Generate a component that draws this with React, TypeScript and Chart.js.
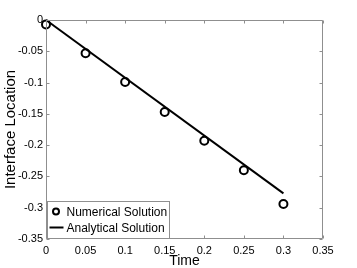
import React, { useEffect, useRef } from "react";
import { Chart, registerables } from "chart.js";

Chart.register(...registerables);

const timeValues = [0, 0.05, 0.1, 0.15, 0.2, 0.25, 0.3];
const numericalSolution = [-0.007, -0.053, -0.099, -0.147, -0.193, -0.24, -0.294];
const analyticalTime = [0, 0.3];
const analyticalSolution = [0, -0.277];
const legendLabels = ["Numerical Solution", "Analytical Solution"];
const xTitle = "Time";
const yTitle = "Interface Location";

const FONT = "'Liberation Sans', Arial, Helvetica, sans-serif";
const AXIS_COLOR = "#8f8f8f";

const fmt = (v: number) => {
  const n = Number(Number(v).toFixed(2));
  return n === 0 ? "0" : String(n);
};

const boxPlugin = {
  id: "matlabBox",
  afterDatasetsDraw(chart: any) {
    const { ctx, chartArea } = chart;
    const { left, right, top, bottom } = chartArea;
    const xs = chart.scales.x;
    const ys = chart.scales.y;
    ctx.save();
    ctx.strokeStyle = AXIS_COLOR;
    ctx.lineWidth = 1;
    const L = Math.round(left) + 0.5;
    const R = Math.round(right) - 0.5;
    const T = Math.round(top) + 0.5;
    const B = Math.round(bottom) - 0.5;
    ctx.beginPath();
    ctx.rect(L, T, R - L, B - T);
    const tl = 3;
    xs.ticks.forEach((t: any) => {
      const px = Math.round(xs.getPixelForValue(t.value)) + 0.5;
      ctx.moveTo(px, B);
      ctx.lineTo(px, B - tl);
      ctx.moveTo(px, T);
      ctx.lineTo(px, T + tl);
    });
    ys.ticks.forEach((t: any) => {
      const py = Math.round(ys.getPixelForValue(t.value)) + 0.5;
      ctx.moveTo(L, py);
      ctx.lineTo(L + tl, py);
      ctx.moveTo(R, py);
      ctx.lineTo(R - tl, py);
    });
    ctx.stroke();
    ctx.restore();
  },
  afterDraw(chart: any) {
    const { ctx, chartArea } = chart;
    const x0 = Math.round(chartArea.left) + 1.5;
    const y1 = Math.round(chartArea.bottom) - 0.5;
    const w = 122;
    const h = 37;
    const y0 = y1 - h;
    ctx.save();
    ctx.fillStyle = "#ffffff";
    ctx.fillRect(x0, y0, w, h);
    ctx.strokeStyle = AXIS_COLOR;
    ctx.lineWidth = 1;
    ctx.strokeRect(x0, y0, w, h);
    const r1 = y0 + 10;
    const r2 = y0 + 26;
    ctx.strokeStyle = "#000000";
    ctx.lineWidth = 2;
    ctx.beginPath();
    ctx.arc(x0 + 8.5, r1, 3, 0, Math.PI * 2);
    ctx.stroke();
    ctx.beginPath();
    ctx.moveTo(x0 + 2, r2);
    ctx.lineTo(x0 + 16, r2);
    ctx.stroke();
    ctx.fillStyle = "#000000";
    ctx.font = `12px ${FONT}`;
    ctx.textBaseline = "middle";
    ctx.textAlign = "left";
    ctx.fillText(legendLabels[0], x0 + 19, r1 + 1);
    ctx.fillText(legendLabels[1], x0 + 19, r2 + 1);
    ctx.restore();
  },
};

export default function App() {
  const ref = useRef<HTMLCanvasElement | null>(null);
  useEffect(() => {
    if (!ref.current) return;
    Chart.defaults.font.family = FONT;
    const chart = new Chart(ref.current, {
      type: "scatter",
      data: {
        datasets: [
          {
            label: legendLabels[0],
            data: timeValues.map((t, i) => ({ x: t, y: numericalSolution[i] })),
            showLine: false,
            pointStyle: "circle",
            pointRadius: 4,
            pointBorderWidth: 2,
            borderColor: "#000000",
            backgroundColor: "rgba(0,0,0,0)",
            clip: false as any,
          },
          {
            label: legendLabels[1],
            data: analyticalTime.map((t, i) => ({ x: t, y: analyticalSolution[i] })),
            showLine: true,
            pointRadius: 0,
            borderWidth: 2,
            borderColor: "#000000",
            backgroundColor: "#000000",
            clip: false as any,
          },
        ],
      },
      options: {
        animation: false,
        responsive: false,
        maintainAspectRatio: false,
        layout: { padding: { top: 20, right: 34, left: 0, bottom: 0 } },
        plugins: { legend: { display: false }, tooltip: { enabled: false } },
        scales: {
          x: {
            type: "linear",
            min: 0,
            max: 0.35,
            grid: { display: false, drawTicks: false },
            border: { display: false },
            ticks: {
              stepSize: 0.05,
              padding: 5,
              color: "#000000",
              font: { size: 11 },
              maxRotation: 0,
              autoSkip: false,
              callback: (v: any) => fmt(v),
            },
            title: {
              display: true,
              text: xTitle,
              color: "#000000",
              font: { size: 14 },
              padding: { top: 0, bottom: -2 },
            },
            afterFit: (s: any) => {
              s.height = 29;
            },
          },
          y: {
            type: "linear",
            min: -0.35,
            max: 0,
            grid: { display: false, drawTicks: false },
            border: { display: false },
            ticks: {
              stepSize: 0.05,
              padding: 3,
              color: "#000000",
              font: { size: 11 },
              autoSkip: false,
              callback: (v: any) => fmt(v),
            },
            title: {
              display: true,
              text: yTitle,
              color: "#000000",
              font: { size: 15 },
              padding: { top: 2, bottom: 0 },
            },
            afterFit: (s: any) => {
              s.width = 46;
            },
          },
        },
      },
      plugins: [boxPlugin],
    });
    return () => chart.destroy();
  }, []);
  return (
    <div style={{ position: "fixed", left: 0, top: 0, width: 357, height: 268, background: "#fff" }}>
      <canvas ref={ref} width={357} height={268} style={{ width: 357, height: 268, display: "block" }} />
    </div>
  );
}
